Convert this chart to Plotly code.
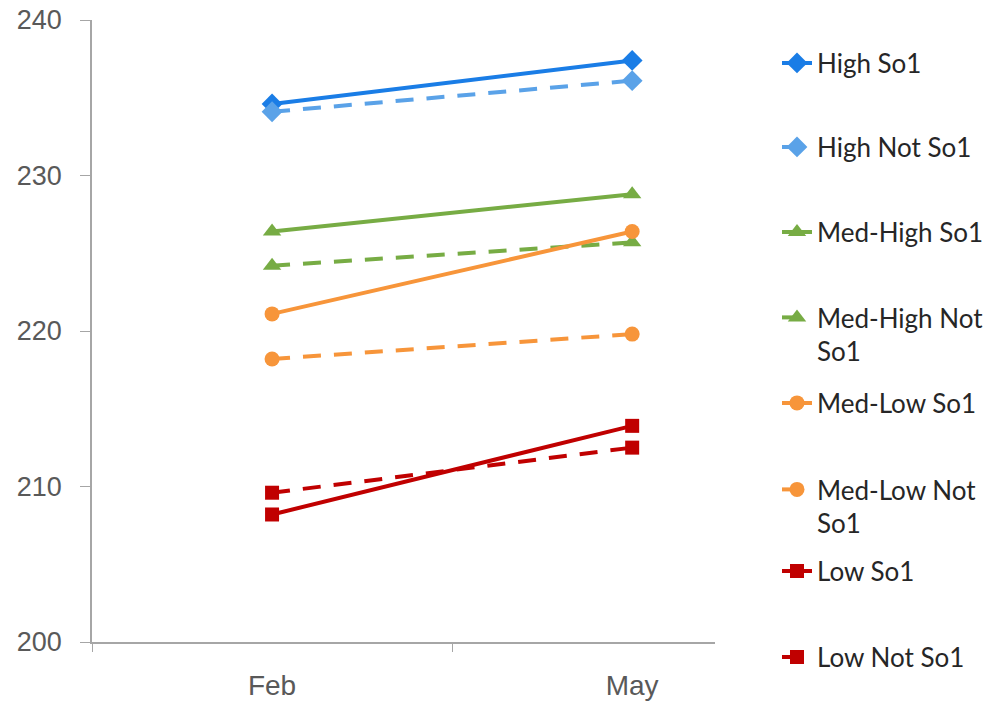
import plotly.graph_objects as go

months = ["Feb", "May"]
series_names = ["High So1", "High Not So1", "Med-High So1", "Med-High Not<br>So1",
                "Med-Low So1", "Med-Low Not<br>So1", "Low So1", "Low Not So1"]
high_so1 = [234.6, 237.4]
high_not_so1 = [234.1, 236.1]
medhigh_so1 = [226.4, 228.8]
medhigh_not_so1 = [224.2, 225.7]
medlow_so1 = [221.1, 226.4]
medlow_not_so1 = [218.2, 219.8]
low_so1 = [208.2, 213.9]
low_not_so1 = [209.6, 212.5]

values = [high_so1, high_not_so1, medhigh_so1, medhigh_not_so1,
          medlow_so1, medlow_not_so1, low_so1, low_not_so1]
colors = ["#1A7DE6", "#5AA2E8", "#77AC44", "#77AC44", "#F7953A", "#F7953A", "#C00000", "#C00000"]
dashes = ["solid", "18px,13px"] * 4
symbols = ["diamond", "diamond", "triangle-up", "triangle-up", "circle", "circle", "square", "square"]
msizes = [16, 16, 16, 16, 15, 15, 14, 14]
legend_y_px = [63, 147, 232, 316, 403, 488, 571, 657]

W, H = 1004, 705
ml, mr, mt, mb = 92, 1004 - 715, 20, 705 - 642
pw, ph = W - ml - mr, H - mt - mb

fig = go.Figure()
layout_legends = {}
for i, (name, vals) in enumerate(zip(series_names, values)):
    lname = "legend" if i == 0 else f"legend{i+1}"
    fig.add_trace(go.Scatter(
        x=months, y=vals, name=name, mode="lines+markers",
        line=dict(color=colors[i], width=4, dash=dashes[i]),
        marker=dict(symbol=symbols[i], size=msizes[i], color=colors[i]),
        legend=lname,
    ))
    ypx = legend_y_px[i]
    multi = "<br>" in name
    layout_legends[lname] = dict(
        x=(777 - ml) / pw, xanchor="left",
        y=1 - ((ypx - 22 if multi else ypx) - mt) / ph,
        yanchor="top" if multi else "middle",
        font=dict(family="Lato, Carlito, sans-serif", size=26, color="#262626"),
        bgcolor="rgba(255,255,255,0)", borderwidth=0, valign="top",
    )

fig.update_layout(
    width=W, height=H,
    margin=dict(l=ml, r=mr, t=mt, b=mb, autoexpand=False),
    plot_bgcolor="white", paper_bgcolor="white",
    showlegend=True,
    **layout_legends,
)
fig.update_xaxes(
    type="category", range=[-0.5, 1.23], automargin=False,
    showline=True, linecolor="#A6A6A6", linewidth=1.5,
    showgrid=False, ticks="outside", tickson="boundaries", ticklen=8, tickcolor="#A6A6A6",
    ticklabelstandoff=18,
    tickfont=dict(family="Liberation Sans, Arial, sans-serif", size=28, color="#595959"),
    zeroline=False,
)
fig.update_yaxes(
    range=[200, 240], tickvals=[200, 210, 220, 230, 240], automargin=False,
    showline=True, linecolor="#A6A6A6", linewidth=1.5,
    showgrid=False, ticks="outside", ticklen=10, tickcolor="#A6A6A6",
    ticklabelstandoff=13, ticklabeloverflow="allow",
    tickfont=dict(family="Liberation Sans, Arial, sans-serif", size=27, color="#595959"),
    zeroline=False,
)
fig.write_html("out.html", config={"displayModeBar": False},
               post_script="document.body.style.margin='0';")
